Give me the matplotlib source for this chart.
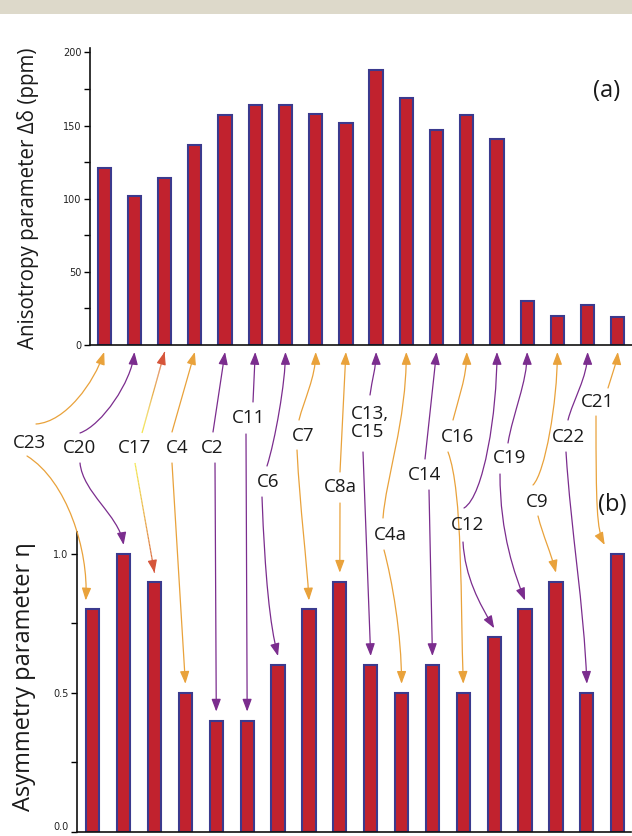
import numpy as np
import matplotlib
matplotlib.use("Agg")
import matplotlib.pyplot as plt
from matplotlib.patches import FancyArrowPatch, Rectangle
from matplotlib.path import Path
from matplotlib.collections import LineCollection
from matplotlib.colors import to_rgb

# ---------------- data ----------------
carbons = ["C23", "C20", "C17", "C4", "C2", "C11", "C6", "C7", "C8a",
           "C13,\nC15", "C4a", "C14", "C16", "C12", "C19", "C9", "C22", "C21"]
anisotropy = [121, 102, 114, 137, 157, 164, 164, 158, 152,
              188, 169, 147, 157, 141, 30, 20, 27, 19]
asymmetry = [0.8, 1.0, 0.9, 0.5, 0.4, 0.4, 0.6, 0.8, 0.9,
             0.6, 0.5, 0.6, 0.5, 0.7, 0.8, 0.9, 0.5, 1.0]
arrow_kind = ["o", "p", "g", "o", "p", "p", "p", "o", "o",
              "p", "o", "p", "o", "p", "p", "o", "p", "o"]
top_ticks = [0, 25, 50, 75, 100, 125, 150, 175, 200]
top_ticklabels = ["0", "", "50", "", "100", "", "150", "", "200"]
bot_ticks = [0, 0.25, 0.5, 0.75, 1.0]
bot_ticklabels = ["0.0", "", "0.5", "", "1.0"]

# ---------------- layout (pixels, y downward) ----------------
label_pos = [(29, 443), (80, 448), (135, 448), (177, 448), (212, 448), (249, 418),
             (268, 482), (303, 436), (340, 487), (370, 423), (390, 535), (425, 475),
             (457, 437), (468, 525), (510, 458), (537, 502), (568, 437), (597, 402)]
top_start = [(36, 424), (80, 433), (142, 433), (172, 432), (213, 432), (253, 402),
             (267, 466), (299, 420), (340, 472), (370, 395), (383, 518), (425, 459),
             (453, 420), (464, 508), (508, 443), (533, 485), (568, 420), (608, 388)]
bot_start = [(27, 456), (80, 463), (135, 463), (172, 463), (215, 463), (246, 434),
             (262, 497), (297, 450), (340, 503), (363, 452), (384, 550), (429, 490),
             (448, 452), (463, 542), (500, 474), (538, 516), (566, 452), (596, 416)]
# control vectors (None -> straight)
top_ctrl = [((30, -2), (-10, 30)), ((22, -8), (-3, 30)), None, None, None, None,
            ((8, -25), (0, 30)), ((5, -20), (0, 25)), None, ((2, -15), (0, 15)),
            ((3, -40), (0, 70)), None, ((5, -20), (0, 25)), ((20, -12), (0, 60)),
            ((5, -30), (0, 30)), ((12, -12), (0, 50)), ((5, -20), (0, 25)),
            ((3, -10), (-1, 10))]
bot_ctrl = [((40, 25), (3, -50)), ((3, 30), (-5, -30)), None, None, None, None,
            ((3, 80), (-8, -30)), ((3, 60), (-2, -40)), None, None,
            ((8, 30), (0, -50)), None, ((15, 40), (-3, -80)), ((2, 35), (-15, -25)),
            ((0, 60), (-10, -25)), ((5, 20), (-5, -20)), ((5, 80), (-3, -80)),
            ((0, 90), (-8, -15))]
bot_tip_dx = [-7, 0, 0, 0, 0, 0, 0, 0, 0, 0, 0, 0, 0, 0, 0, 0, 0, -13]

W, H, DPI = 632, 836, 100
fig = plt.figure(figsize=(W / DPI, H / DPI), dpi=DPI)
fig.patch.set_facecolor("white")

BAR_FC = "#c1222e"
BAR_EC = "#3b3a8e"
ORANGE = "#e9a23b"
PURPLE = "#7b2d8e"
TICKFONT = dict(family="DejaVu Sans", size=7, color="#222222")
LABFONT = ["Open Sans", "DejaVu Sans"]

# top band
fig.patches.append(Rectangle((0, 1 - 14 / H), 1, 14 / H, transform=fig.transFigure,
                             facecolor="#ddd9ca", edgecolor="none"))

# ---------------- top axes ----------------
ax1 = fig.add_axes([90 / W, 1 - 345 / H, (632 - 90) / W, (345 - 48) / H])
x = np.arange(len(carbons))
ax1.bar(x, anisotropy, width=0.44, color=BAR_FC, edgecolor=BAR_EC, linewidth=1.5, zorder=2)
ax1.set_xlim(-0.47, 17.47)
ax1.set_ylim(0, 203)
ax1.set_yticks(top_ticks)
ax1.set_yticklabels(top_ticklabels, fontdict=TICKFONT)
ax1.set_xticks([])

# ---------------- bottom axes ----------------
ax2 = fig.add_axes([77 / W, 1 - 831.7 / H, (631 - 77) / W, (831.7 - 531.7) / H])
ax2.bar(x, asymmetry, width=0.43, color=BAR_FC, edgecolor=BAR_EC, linewidth=1.5, zorder=2)
ax2.set_xlim(-0.51, 17.43)
ax2.set_ylim(0, 1.08)
ax2.set_yticks(bot_ticks)
ax2.set_yticklabels(bot_ticklabels, fontdict=TICKFONT)
ax2.set_xticks([])
ax2.get_yticklabels()[0].set_va("bottom")

for ax in (ax1, ax2):
    for s in ("top", "right"):
        ax.spines[s].set_visible(False)
    for s in ("left", "bottom"):
        ax.spines[s].set_linewidth(1.2)
        ax.spines[s].set_color("#111111")
    ax.tick_params(axis="y", direction="out", length=4, width=1, pad=2)
    ax.patch.set_alpha(0)

# ---------------- overlay for labels & arrows ----------------
ov = fig.add_axes([0, 0, 1, 1], zorder=5)
ov.set_xlim(0, W)
ov.set_ylim(H, 0)
ov.axis("off")
ov.patch.set_alpha(0)

fig.canvas.draw()


def to_px(ax, xy):
    d = ax.transData.transform(xy)
    return np.array([d[0], H - d[1]])


AST = "-|>,head_length=0.75,head_width=0.28"


def bez_pts(p0, p1, p2, p3, n=80):
    t = np.linspace(0, 1, n)[:, None]
    return ((1 - t) ** 3) * p0 + 3 * ((1 - t) ** 2) * t * p1 + 3 * (1 - t) * t ** 2 * p2 + t ** 3 * p3


def draw_arrow(start, tip, ctrl, kind):
    s = np.array(start, float)
    tp = np.array(tip, float)
    if ctrl is None:
        c1 = s + (tp - s) / 3.0
        c2 = tp + (s - tp) / 3.0
    else:
        c1 = s + np.array(ctrl[0], float)
        c2 = tp + np.array(ctrl[1], float)
    if kind == "g":
        pts = bez_pts(s, c1, c2, tp)
        segs = np.stack([pts[:-1], pts[1:]], axis=1)
        y0 = np.array(to_rgb("#f3e44a"))
        r0 = np.array(to_rgb("#d6553a"))
        f = np.linspace(0, 1, len(segs))[:, None] ** 1.3
        cols = y0 * (1 - f) + r0 * f
        ov.add_collection(LineCollection(segs, colors=cols, linewidths=0.9, zorder=6))
        a = FancyArrowPatch(posA=tuple(pts[-8]), posB=tuple(tp), arrowstyle=AST,
                            mutation_scale=10, color="#d6553a", lw=0.9,
                            shrinkA=0, shrinkB=0, zorder=6)
        ov.add_patch(a)
        return
    col = ORANGE if kind == "o" else PURPLE
    path = Path([tuple(s), tuple(c1), tuple(c2), tuple(tp)],
                [Path.MOVETO, Path.CURVE4, Path.CURVE4, Path.CURVE4])
    a = FancyArrowPatch(path=path, arrowstyle=AST, mutation_scale=10,
                        color=col, lw=0.9, transform=ov.transData, zorder=6)
    ov.add_patch(a)


for i, lab in enumerate(carbons):
    cx, cy = label_pos[i]
    ov.text(cx, cy, lab, ha="center", va="center", fontsize=13.5, family=LABFONT,
            color="#1a1a1a", linespacing=1.05, multialignment="left", zorder=7)
    # top arrow: to the base of the anisotropy bar
    tip_top = to_px(ax1, (x[i], 0)) + np.array([0, 7])
    draw_arrow(top_start[i], tip_top, top_ctrl[i], arrow_kind[i])
    # bottom arrow: to the top of the asymmetry bar
    tip_bot = to_px(ax2, (x[i], asymmetry[i])) + np.array([bot_tip_dx[i], -9])
    draw_arrow(bot_start[i], tip_bot, bot_ctrl[i], arrow_kind[i])

# axis titles & panel tags
ov.text(28, 198, "Anisotropy parameter \u0394\u03b4 (ppm)", rotation=90, ha="center",
        va="center", fontsize=14.8, family=LABFONT, color="#1a1a1a")
ov.text(24, 677, "Asymmetry parameter \u03b7", rotation=90, ha="center",
        va="center", fontsize=17, family=LABFONT, color="#1a1a1a")
ov.text(607, 91, "(a)", ha="center", va="center", fontsize=17, family=LABFONT, color="#1a1a1a")
ov.text(612, 505, "(b)", ha="center", va="center", fontsize=17, family=LABFONT, color="#1a1a1a")

fig.savefig("out.png", dpi=DPI)
